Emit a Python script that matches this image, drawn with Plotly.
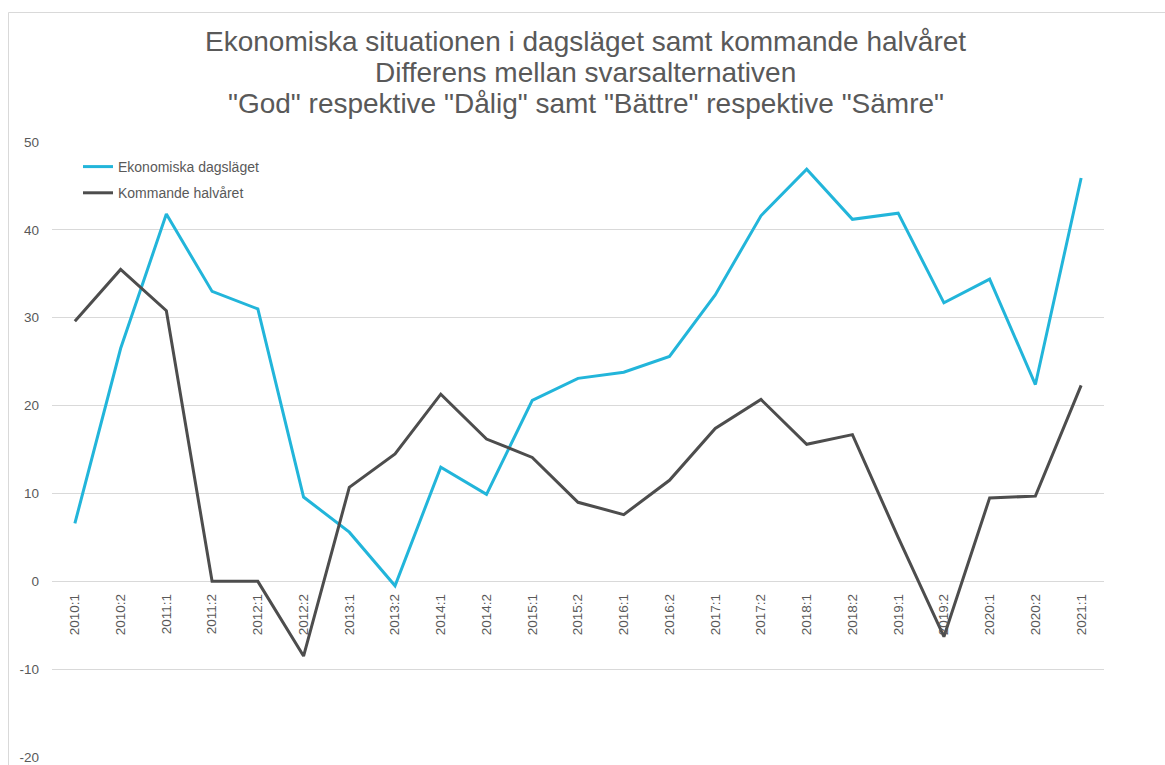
import plotly.graph_objects as go

categories = ["2010:1", "2010:2", "2011:1", "2011:2", "2012:1", "2012:2", "2013:1", "2013:2",
              "2014:1", "2014:2", "2015:1", "2015:2", "2016:1", "2016:2", "2017:1", "2017:2",
              "2018:1", "2018:2", "2019:1", "2019:2", "2020:1", "2020:2", "2021:1"]
dagslaget = [6.6, 26.5, 41.8, 33.0, 31.0, 9.6, 5.6, -0.5, 13.0, 9.9, 20.6, 23.1, 23.8, 25.6,
             32.6, 41.6, 46.9, 41.2, 41.9, 31.7, 34.4, 22.4, 45.9]
kommande = [29.6, 35.5, 30.8, 0.0, 0.0, -8.5, 10.7, 14.5, 21.3, 16.2, 14.1, 9.0, 7.6, 11.5,
            17.4, 20.7, 15.6, 16.7, 5.0, -6.3, 9.5, 9.7, 22.3]
y_ticks = [-20, -10, 0, 10, 20, 30, 40, 50]
y_tick_text = ["-20", "-10", "0", "10", "20", "30", "40", "50"]
title_lines = ["Ekonomiska situationen i dagsläget samt kommande halvåret",
               "Differens mellan svarsalternativen",
               "\"God\" respektive \"Dålig\" samt \"Bättre\" respektive \"Sämre\""]

W, H = 1165, 765
L, R, T, B = 52, 1104, 142, 758
pw, ph = R - L, B - T
y_min, y_max = -20.1, 50

def px_x(x):
    return (x - L) / pw

def px_y(y):
    return (B - y) / ph

fig = go.Figure()
fig.add_trace(go.Scatter(x=categories, y=dagslaget, mode="lines", name="Ekonomiska dagsläget",
                         line=dict(color="#22B5DA", width=3), legendgroup="a"))
fig.add_trace(go.Scatter(x=categories, y=kommande, mode="lines", name="Kommande halvåret",
                         line=dict(color="#4D4D4D", width=3), legendgroup="b"))

font_family = "Liberation Sans, Arial, sans-serif"

fig.update_layout(
    width=W, height=H,
    margin=dict(l=L, r=W - R, t=T, b=H - B, pad=0, autoexpand=False),
    paper_bgcolor="white", plot_bgcolor="white",
    font=dict(family=font_family, color="#595959"),
    showlegend=True,
    legend=dict(x=px_x(78), y=px_y(151), xanchor="left", yanchor="top",
                bgcolor="rgba(0,0,0,0)", font=dict(size=14, color="#595959"),
                traceorder="grouped", tracegroupgap=5),
    xaxis=dict(
        type="category", range=[-0.5, len(categories) - 0.5],
        anchor="free", position=(0 - y_min) / (y_max - y_min), automargin=False,
        showgrid=False, showline=False, zeroline=False,
        tickangle=-90, ticks="", ticklabelstandoff=9,
        tickfont=dict(size=13.5, color="#595959"),
        fixedrange=True,
    ),
    yaxis=dict(
        range=[y_min, y_max], tickvals=y_ticks, ticktext=y_tick_text, automargin=False,
        showgrid=True, gridcolor="#D9D9D9", gridwidth=1,
        zeroline=False, showline=False, ticks="", ticklabelstandoff=12,
        tickfont=dict(size=13.5, color="#595959"),
    ),
)

for i, (line, yc) in enumerate(zip(title_lines, [42, 73, 104])):
    fig.add_annotation(text=line, xref="paper", yref="paper", x=px_x(585.5), y=px_y(yc),
                       xanchor="center", yanchor="middle", showarrow=False,
                       font=dict(size=28, color="#595959", family=font_family))

# chart border (cropped at right and bottom like the reference)
fig.add_shape(type="rect", xref="paper", yref="paper",
              x0=px_x(8.5), x1=px_x(1180), y0=px_y(780), y1=px_y(12.5),
              line=dict(color="#D9D9D9", width=1), fillcolor="rgba(0,0,0,0)", layer="below")

fig.write_html("out.html", config={"displayModeBar": False},
               post_script="document.body.style.margin='0';document.body.style.overflow='hidden';")
